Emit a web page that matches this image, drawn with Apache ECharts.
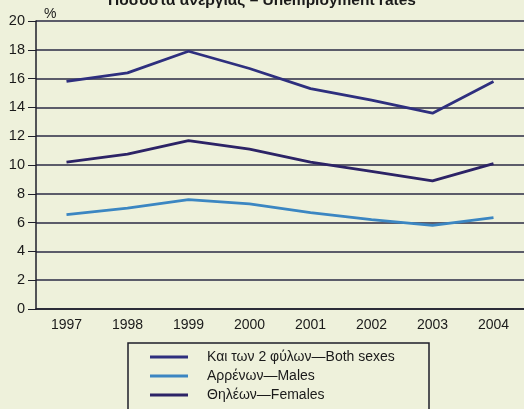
<!DOCTYPE html>
<html><head><meta charset="utf-8">
<script src="https://cdn.jsdelivr.net/npm/echarts@6/dist/echarts.min.js"></script>
<style>html,body{margin:0;padding:0;background:#eef1db}#c{width:524px;height:409px}</style>
</head><body><div id="c"></div>
<script>
const years = ['1997','1998','1999','2000','2001','2002','2003','2004'];
const bothSexes = [15.8, 16.4, 17.9, 16.7, 15.3, 14.5, 13.6, 15.8];
const males = [6.55, 7.0, 7.6, 7.3, 6.7, 6.2, 5.8, 6.35];
const females = [10.2, 10.75, 11.7, 11.1, 10.2, 9.55, 8.9, 10.1];
const seriesNames = ['Και των 2 φύλων—Both sexes', 'Αρρένων—Males', 'Θηλέων—Females'];
const titleText = 'Ποσοστά ανεργίας – Unemployment rates';

const chart = echarts.init(document.getElementById('c'));
const font = 'Liberation Sans, Arial, sans-serif';
const colors = ['#2e2f7e', '#3b86c2', '#2c2366'];
chart.setOption({
  backgroundColor: '#eef1db',
  animation: false,
  color: colors,
  title: {text: titleText, left: 'center', top: -12,
    textStyle: {fontFamily: font, fontSize: 15.5, fontWeight: 'bold', color: '#1a1a1a'}},
  grid: {left: 36, right: 0, top: 21, bottom: 100},
  xAxis: {type: 'category', data: years, boundaryGap: true,
    axisLine: {lineStyle: {color: '#1e1e2a', width: 1.5}},
    axisTick: {alignWithLabel: true, length: 7, lineStyle: {color: '#1e1e2a'}},
    axisLabel: {fontFamily: font, fontSize: 14, color: '#1a1a1a', margin: 9}},
  yAxis: {type: 'value', min: 0, max: 20, interval: 2, name: '%',
    nameGap: 0, nameTextStyle: {fontFamily: font, fontSize: 14, color: '#1a1a1a', align: 'left', padding: [0,0,0,8]},
    axisLine: {show: true, lineStyle: {color: '#1e1e2a', width: 1.5}},
    axisTick: {show: true, length: 8, lineStyle: {color: '#1e1e2a'}},
    axisLabel: {fontFamily: font, fontSize: 14.5, color: '#1a1a1a', margin: 11},
    splitLine: {lineStyle: {color: '#2a2a45', width: 1.5}}},
  legend: {orient: 'vertical', left: 145, top: 345, itemGap: 5, itemWidth: 38, itemHeight: 3,
    icon: 'rect', textStyle: {fontFamily: font, fontSize: 14, color: '#1a1a1a', padding: [0,0,0,14]},
    data: seriesNames},
  graphic: [{type: 'rect', shape: {x: 128, y: 343, width: 301, height: 80},
    style: {fill: 'none', stroke: '#1e1e2a', lineWidth: 1.5}, z: -1}],
  series: [
    {name: seriesNames[0], type: 'line', data: bothSexes, symbol: 'none', lineStyle: {width: 2.8}},
    {name: seriesNames[1], type: 'line', data: males, symbol: 'none', lineStyle: {width: 2.8}},
    {name: seriesNames[2], type: 'line', data: females, symbol: 'none', lineStyle: {width: 2.8}}
  ]
});
</script></body></html>
